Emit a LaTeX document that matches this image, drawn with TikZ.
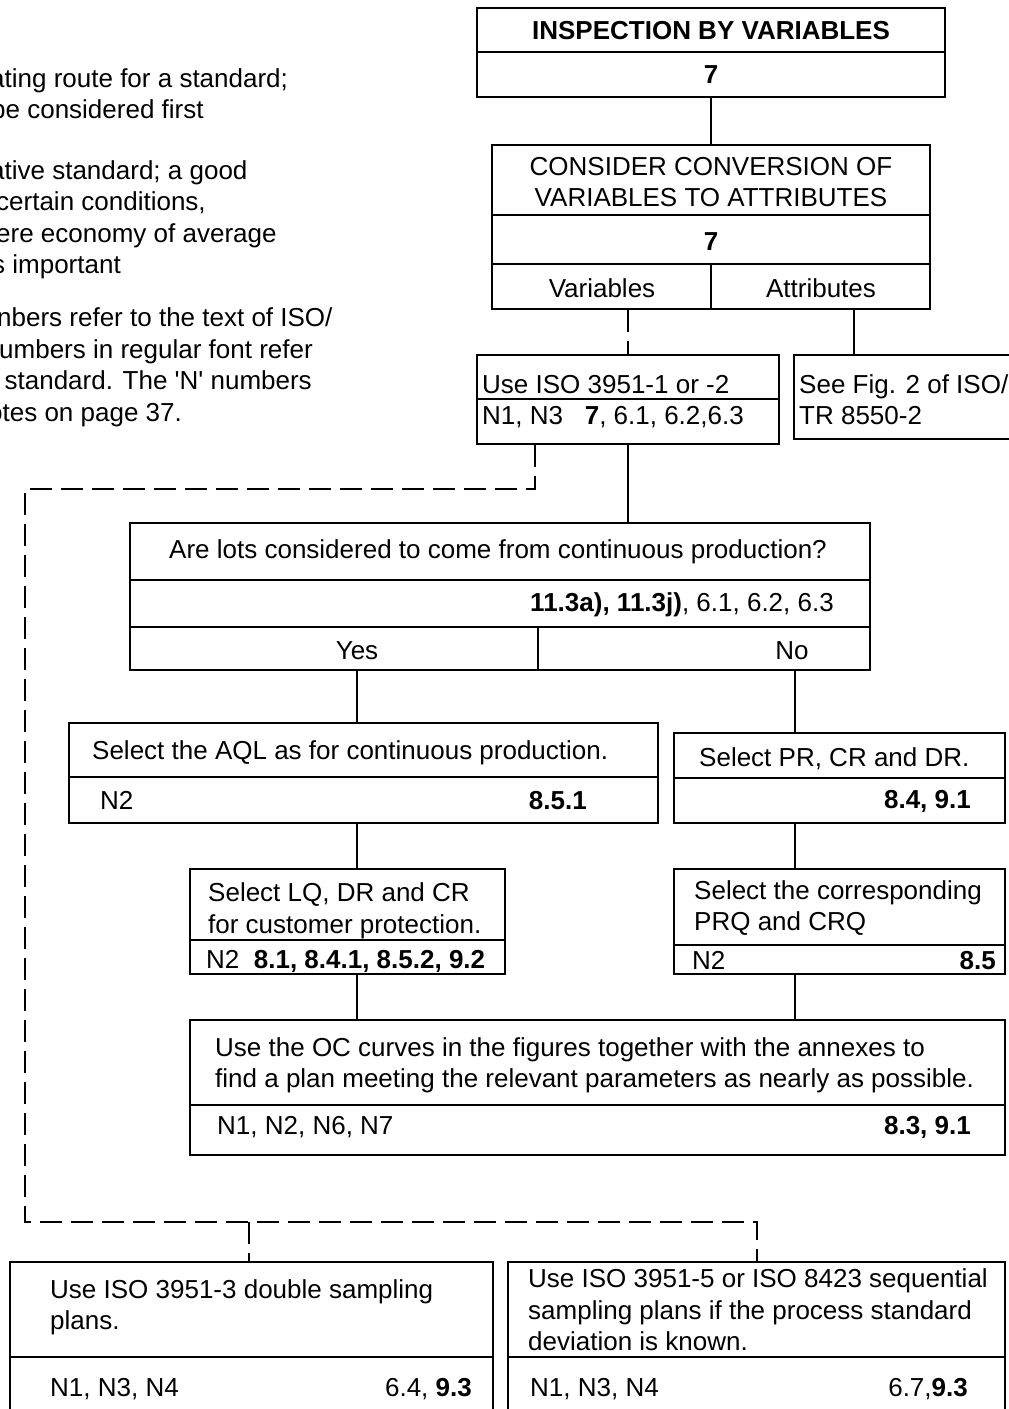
\documentclass[tikz,border=0pt]{standalone}
\usepackage{fontspec}
\setmainfont{Liberation Sans}
\usetikzlibrary{fit}
\begin{document}
\begin{tikzpicture}[x=1pt,y=-1pt,
  box/.style={draw, line width=1.6pt, inner sep=0pt},
  ln/.style={line width=1.6pt},
  dl/.style={line width=1.6pt, dash pattern=on 22pt off 9pt},
  txt/.style={inner sep=0pt, font=\fontsize{26}{31.5}\selectfont},
  tl/.style={txt, anchor=base west},
  tr/.style={txt, anchor=base east},
  tc/.style={txt, anchor=base},
]
\useasboundingbox (0,0) rectangle (1009,1409);
\clip (0,0) rectangle (1009,1409);
\fill[white] (0,0) rectangle (1009,1409);

% ---- left notes (cut off by the picture edge)
\node[tl] (n1) at (-10,87) {ating route for a standard;};
\node[tl] (n2) at (-9,118) {be considered first};
\node[tl] (n3) at (-10,179) {ative standard; a good};
\node[tl] (n4) at (-4,210) {certain conditions,};
\node[tl] (n5) at (-4,242) {ere economy of average};
\node[tl] (n6) at (-8,273) {s important};
\node[tl] (n7) at (-3,326) {nbers refer to the text of ISO/};
\node[tl] (n8) at (-1,358) {umbers in regular font refer};
\node[tl] (n9) at (-10,389) {t standard. The \textquotesingle N\textquotesingle\ numbers};
\node[tl] (n10) at (-12,421) {otes on page 37.};

% ---- boxes
\node[box, fit={(477,8) (945,97)}] (b1) {};
\draw[ln] (477,52) -- (945,52);
\node[tc] (b1a) at (711,39) {\textbf{INSPECTION BY VARIABLES}};
\node[tc] (b1b) at (711,83) {\textbf{7}};

\node[box, fit={(492,145) (930,309)}] (b2) {};
\draw[ln] (492,215) -- (930,215);
\draw[ln] (492,264) -- (930,264);
\draw[ln] (711,264) -- (711,309);
\node[tc] (b2a) at (711,175) {CONSIDER CONVERSION OF};
\node[tc] (b2b) at (711,206) {VARIABLES TO ATTRIBUTES};
\node[tc] (b2c) at (711,250) {\textbf{7}};
\node[tc] (vars) at (602,297) {Variables};
\node[tc] (attr) at (821,297) {Attributes};

\node[box, fit={(477,355) (779,444)}] (b3) {};
\draw[ln] (477,399) -- (779,399);
\node[tl] (b3a) at (482,393) {Use ISO 3951-1 or -2};
\node[tl] (b3b) at (482,424) {N1, N3\ \ \ \textbf{7}, 6.1, 6.2,6.3};

\node[box, fit={(794,355) (1040,439)}] (b4) {};
\node[tl] (b4a) at (799,393) {See Fig. 2 of ISO/};
\node[tl] (b4b) at (799,424) {TR 8550-2};

\node[box, fit={(130,523) (870,670)}] (b5) {};
\draw[ln] (130,580) -- (870,580);
\draw[ln] (130,627) -- (870,627);
\draw[ln] (538,627) -- (538,670);
\node[tc] (b5a) at (498,558) {Are lots considered to come from continuous production?};
\node[tr] (b5b) at (834,611) {\textbf{11.3a), 11.3j)}, 6.1, 6.2, 6.3};
\node[tc] (yes) at (357,659) {Yes};
\node[tc] (no) at (792,659) {No};

\node[box, fit={(69,723) (658,823)}] (b6) {};
\draw[ln] (69,777) -- (658,777);
\node[tl] (b6a) at (92,759) {Select the AQL as for continuous production.};
\node[tl] (b6b) at (100,809) {N2};
\node[tr] (b6c) at (587,809) {\textbf{8.5.1}};

\node[box, fit={(674,733) (1005,823)}] (b7) {};
\draw[ln] (674,778) -- (1005,778);
\node[tl] (b7a) at (699,766) {Select PR, CR and DR.};
\node[tr] (b7b) at (971,808) {\textbf{8.4, 9.1}};

\node[box, fit={(190,869) (505,974)}] (b8) {};
\draw[ln] (190,940) -- (505,940);
\node[tl] (b8a) at (208,901) {Select LQ, DR and CR};
\node[tl] (b8b) at (208,933) {for customer protection.};
\node[tl] (b8c) at (206,968) {N2\ \ \textbf{8.1, 8.4.1, 8.5.2, 9.2}};

\node[box, fit={(674,869) (1005,974)}] (b9) {};
\draw[ln] (674,945) -- (1005,945);
\node[tl] (b9a) at (694,899) {Select the corresponding};
\node[tl] (b9b) at (694,930) {PRQ and CRQ};
\node[tl] (b9c) at (692,969) {N2};
\node[tr] (b9d) at (996,969) {\textbf{8.5}};

\node[box, fit={(190,1020) (1005,1155)}] (b10) {};
\draw[ln] (190,1105) -- (1005,1105);
\node[tl] (b10a) at (215,1056) {Use the OC curves in the figures together with the annexes to};
\node[tl] (b10b) at (215,1087) {find a plan meeting the relevant parameters as nearly as possible.};
\node[tl] (b10c) at (217,1134) {N1, N2, N6, N7};
\node[tr] (b10d) at (971,1134) {\textbf{8.3, 9.1}};

\node[box, fit={(10,1262) (493,1440)}] (b11) {};
\draw[ln] (10,1357) -- (493,1357);
\node[tl] (b11a) at (50,1298) {Use ISO 3951-3 double sampling};
\node[tl] (b11b) at (50,1329) {plans.};
\node[tl] (b11c) at (50,1396) {N1, N3, N4};
\node[tr] (b11d) at (472,1396) {6.4, \textbf{9.3}};

\node[box, fit={(508,1262) (1005,1440)}] (b12) {};
\draw[ln] (508,1357) -- (1005,1357);
\node[tl] (b12a) at (528,1287) {Use ISO 3951-5 or ISO 8423 sequential};
\node[tl] (b12b) at (528,1319) {sampling plans if the process standard};
\node[tl] (b12c) at (528,1350) {deviation is known.};
\node[tl] (b12d) at (530,1396) {N1, N3, N4};
\node[tr] (b12e) at (968,1396) {6.7,\textbf{9.3}};

% ---- connector positions
\coordinate (xa) at (854,0);
\coordinate (xl) at (357,0);
\coordinate (xr) at (795,0);
\coordinate (xd) at (535,0);
\coordinate (d1) at (535,489);
\coordinate (d2) at (25,489);
\coordinate (d3) at (25,1222);
\coordinate (d4) at (757,1222);
\coordinate (d5) at (249,1222);

% ---- connectors
\draw[ln] (b1.south -| b2.north) -- (b2.north);
\draw[dl] (b2.south -| b3.north) -- (b3.north);
\draw[ln] (b2.south -| xa) -- (b4.north -| xa);
\draw[ln] (b3.south) -- (b5.north -| b3.south);
\draw[ln] (b5.south -| xl) -- (b6.north -| xl);
\draw[ln] (b5.south -| xr) -- (b7.north -| xr);
\draw[ln] (b6.south -| xl) -- (b8.north -| xl);
\draw[ln] (b7.south -| xr) -- (b9.north -| xr);
\draw[ln] (b8.south -| xl) -- (b10.north -| xl);
\draw[ln] (b9.south -| xr) -- (b10.north -| xr);
\draw[dl] (b3.south -| xd) -- (d1) -- (d2) -- (d3) -- (d4) -- (b12.north -| d4);
\draw[dl] (d5) -- (b11.north -| d5);
\end{tikzpicture}
\end{document}
